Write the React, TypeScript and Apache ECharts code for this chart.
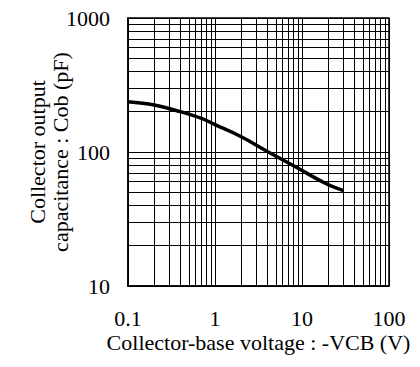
import React, { useEffect, useRef } from "react";
import * as echarts from "echarts";

// Collector-base voltage -VCB (V)
const vcb = [0.1, 0.2, 0.4, 0.7, 1, 2, 4, 8.3, 18, 30];
// Collector output capacitance Cob (pF)
const cob = [237, 224, 200, 178, 160, 130, 101, 78, 59, 51.5];

const xTickLabels = ["0.1", "1", "10", "100"];
const yTickLabels = ["10", "100", "1000"];

const xMinorGrid = [
  0.2, 0.3, 0.4, 0.5, 0.6, 0.7, 0.8, 0.9,
  2, 3, 4, 5, 6, 7, 8, 9,
  20, 30, 40, 50, 60, 70, 80, 90,
];
const yMinorGrid = [
  20, 30, 40, 50, 60, 70, 80, 90,
  200, 300, 400, 500, 600, 700, 800, 900,
];

const FONT = "'Liberation Serif', 'Times New Roman', serif";

export default function App() {
  const ref = useRef<HTMLDivElement>(null);
  useEffect(() => {
    if (!ref.current) return;
    const chart = echarts.init(ref.current, undefined, { renderer: "svg" });
    const gridLine = { color: "#000", width: 1, type: "solid" as const };
    chart.setOption({
      animation: false,
      backgroundColor: "#fff",
      grid: {
        left: 128,
        top: 18,
        width: 261,
        height: 268,
        show: true,
        borderColor: "#000",
        borderWidth: 1.5,
      },
      xAxis: {
        type: "log",
        logBase: 10,
        min: 0.1,
        max: 100,
        axisLine: { show: true, lineStyle: { color: "#000", width: 1.5 } },
        axisTick: { show: false },
        splitLine: { show: true, lineStyle: gridLine },
        axisLabel: {
          margin: 21,
          color: "#000",
          fontFamily: FONT,
          fontSize: 22,
          formatter: (v: number) => {
            const i = Math.round(Math.log10(v)) + 1;
            return xTickLabels[i] ?? String(v);
          },
        },
        name: "Collector-base voltage : -VCB (V)",
        nameLocation: "middle",
        nameGap: 45,
        nameMoveOverlap: false,
        nameTextStyle: { color: "#000", fontFamily: FONT, fontSize: 22 },
      },
      yAxis: {
        type: "log",
        logBase: 10,
        min: 10,
        max: 1000,
        axisLine: { show: true, lineStyle: { color: "#000", width: 1.5 } },
        axisTick: { show: false },
        splitLine: { show: true, lineStyle: gridLine },
        axisLabel: {
          margin: 18,
          color: "#000",
          fontFamily: FONT,
          fontSize: 22,
          formatter: (v: number) => {
            const i = Math.round(Math.log10(v)) - 1;
            return yTickLabels[i] ?? String(v);
          },
        },
        name: "Collector output\ncapacitance : Cob (pF)",
        nameLocation: "middle",
        nameGap: 56,
        nameMoveOverlap: false,
        nameRotate: 90,
        nameTextStyle: {
          color: "#000",
          fontFamily: FONT,
          fontSize: 22,
          lineHeight: 23,
          align: "center",
        },
      },
      series: [
        {
          type: "line",
          data: [],
          silent: true,
          markLine: {
            silent: true,
            symbol: ["none", "none"],
            label: { show: false },
            lineStyle: { color: "#000", width: 1, type: "solid" },
            data: [
              ...xMinorGrid.map((v) => ({ xAxis: v })),
              ...yMinorGrid.map((v) => ({ yAxis: v })),
            ],
          },
        },
        {
          type: "line",
          data: vcb.map((x, i) => [x, cob[i]]),
          smooth: 0.4,
          showSymbol: false,
          lineStyle: { color: "#000", width: 3.5 },
          z: 5,
        },
      ],
    });
    return () => chart.dispose();
  }, []);
  return (
    <div
      ref={ref}
      style={{ position: "fixed", left: 0, top: 0, width: 420, height: 367 }}
    />
  );
}
